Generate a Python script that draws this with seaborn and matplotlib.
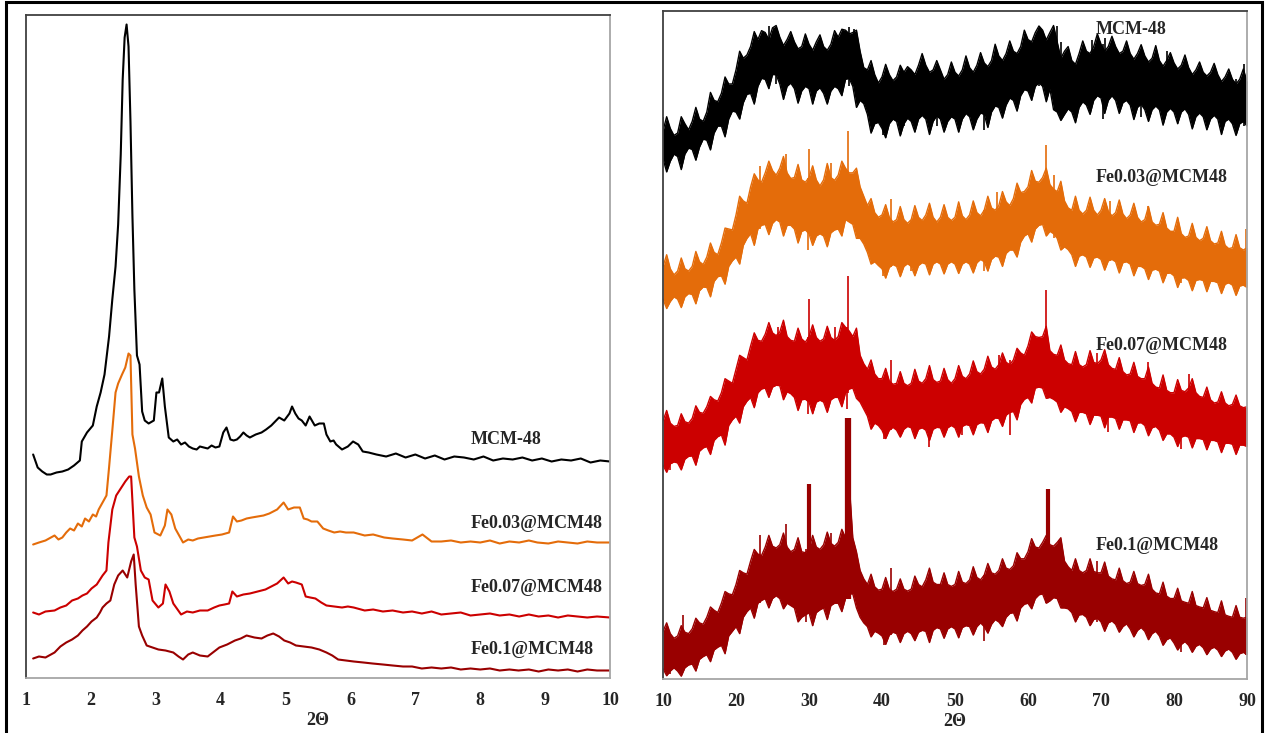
import numpy as np
import seaborn as sns
import matplotlib
matplotlib.use('Agg')
import matplotlib.pyplot as plt
from matplotlib.patches import Rectangle
from matplotlib.ticker import MultipleLocator

# ------------------------------
# colours / sample names
# ------------------------------
names = ['MCM-48', 'Fe0.03@MCM48', 'Fe0.07@MCM48', 'Fe0.1@MCM48']
colors = ['#000000', '#e46c0a', '#cc0000', '#990000']

# ------------------------------
# low angle patterns (1-10 deg), stacked intensities (a.u.)
# ------------------------------
mcm48_x = [1.11, 1.18, 1.25, 1.32, 1.38, 1.47, 1.56, 1.65, 1.74, 1.83, 1.86, 1.94, 2.03, 2.09, 2.15,
           2.21, 2.28, 2.33, 2.38, 2.42, 2.46, 2.49, 2.52, 2.55, 2.58, 2.61, 2.64, 2.67, 2.71, 2.75,
           2.79, 2.83, 2.89, 2.97, 3.01, 3.05, 3.10, 3.14, 3.20, 3.27, 3.33, 3.39, 3.45, 3.51, 3.57,
           3.63, 3.68, 3.74, 3.80, 3.86, 3.92, 3.98, 4.04, 4.09, 4.15, 4.20, 4.25, 4.30, 4.35, 4.40,
           4.45, 4.54, 4.63, 4.70, 4.78, 4.84, 4.90, 4.98, 5.06, 5.10, 5.15, 5.20, 5.25, 5.31, 5.37,
           5.45, 5.52, 5.59, 5.63, 5.69, 5.74, 5.78, 5.87, 5.96, 6.04, 6.12, 6.19, 6.28,
           6.4, 6.55, 6.7, 6.85, 7.0, 7.15, 7.3, 7.45, 7.6, 7.75, 7.9, 8.05, 8.2, 8.35, 8.5,
           8.65, 8.8, 8.95, 9.1, 9.25, 9.4, 9.55, 9.7, 9.85, 10.0]
mcm48_y = [222, 209, 205, 202, 202, 204, 205, 207, 211, 216, 235, 244, 251, 270, 284,
           302, 340, 377, 410, 452, 522, 597, 639, 652, 630, 555, 461, 387, 321, 312,
           265, 256, 253, 256, 284, 284, 298, 270, 239, 235, 237, 232, 234, 230, 228,
           227, 230, 229, 228, 231, 229, 230, 244, 249, 237, 236, 237, 240, 244, 241,
           239, 242, 244, 247, 251, 255, 259, 256, 263, 270, 263, 258, 256, 251, 260,
           251, 253, 253, 242, 235, 236, 232, 227, 230, 235, 232, 225, 224,
           222, 220, 223, 219, 222, 218, 221, 217, 220, 219, 217, 220, 216, 218, 217,
           219, 216, 218, 215, 217, 216, 218, 214, 216, 215]

fe003_x = [1.11, 1.2, 1.3, 1.44, 1.5, 1.56, 1.62, 1.68, 1.74, 1.80, 1.86, 1.91, 1.97, 2.03, 2.08,
           2.12, 2.18, 2.24, 2.28, 2.33, 2.38, 2.42, 2.48, 2.53, 2.58, 2.61, 2.64, 2.68, 2.74, 2.80,
           2.86, 2.92, 2.98, 3.07, 3.14, 3.18, 3.24, 3.30, 3.42, 3.50, 3.57, 3.65, 3.74, 3.83, 3.92,
           4.02, 4.13, 4.19, 4.25, 4.32, 4.40, 4.48, 4.57, 4.66, 4.75, 4.87, 4.97, 5.04, 5.13, 5.22,
           5.28, 5.34, 5.40, 5.49, 5.58, 5.66, 5.75, 5.84, 5.93, 6.05, 6.22, 6.35, 6.52, 6.65, 6.81,
           6.95, 7.11, 7.25, 7.40, 7.55, 7.7, 7.85, 8.0, 8.15, 8.3, 8.45, 8.6, 8.75, 8.88, 9.05,
           9.2, 9.35, 9.5, 9.65, 9.8, 10.0]
fe003_y = [132, 134, 136, 141, 137, 139, 144, 148, 146, 153, 150, 158, 155, 162, 160,
           167, 174, 181, 209, 246, 284, 293, 302, 309, 323, 321, 242, 228, 200, 181,
           169, 162, 144, 141, 151, 167, 162, 148, 134, 137, 136, 138, 139, 140, 141,
           142, 144, 160, 155, 156, 158, 159, 160, 161, 163, 167, 174, 167, 169, 169,
           158, 157, 155, 155, 148, 146, 144, 145, 144, 144, 141, 142, 139, 138, 137,
           136, 142, 135, 135, 136, 134, 135, 134, 136, 133, 135, 134, 136, 134, 133,
           135, 134, 133, 135, 134, 134]

fe007_x = [1.11, 1.2, 1.3, 1.44, 1.53, 1.62, 1.71, 1.80, 1.87, 1.94, 2.01, 2.09, 2.14, 2.18, 2.24,
           2.27, 2.33, 2.39, 2.46, 2.53, 2.59, 2.62, 2.67, 2.71, 2.77, 2.83, 2.89, 2.95, 3.04, 3.11,
           3.15, 3.21, 3.27, 3.39, 3.48, 3.57, 3.68, 3.80, 3.90, 3.98, 4.06, 4.13, 4.18, 4.25, 4.35,
           4.45, 4.57, 4.69, 4.78, 4.87, 4.97, 5.04, 5.10, 5.16, 5.25, 5.31, 5.38, 5.46, 5.55, 5.63,
           5.75, 5.87, 5.96, 6.05, 6.22, 6.35, 6.5, 6.65, 6.81, 6.95, 7.1, 7.25, 7.4, 7.55, 7.7,
           7.85, 8.0, 8.15, 8.3, 8.45, 8.6, 8.75, 8.9, 9.05, 9.2, 9.35, 9.5, 9.65, 9.8, 10.0]
fe007_y = [64, 62, 65, 66, 69, 71, 76, 78, 81, 83, 88, 92, 97, 101, 106,
           134, 167, 181, 188, 195, 200, 200, 139, 130, 106, 99, 97, 76, 69, 73,
           92, 85, 73, 62, 65, 64, 66, 66, 69, 71, 72, 73, 85, 80, 82,
           83, 85, 87, 90, 93, 99, 93, 95, 94, 92, 80, 79, 78, 74, 71,
           70, 69, 70, 69, 66, 67, 65, 66, 64, 65, 63, 65, 62, 63, 64,
           61, 62, 63, 61, 62, 60, 62, 60, 61, 59, 61, 60, 59, 60, 59]

fe01_x = [1.11, 1.2, 1.3, 1.44, 1.53, 1.62, 1.71, 1.80, 1.87, 1.94, 2.01, 2.09, 2.14, 2.18, 2.24,
          2.30, 2.36, 2.42, 2.49, 2.56, 2.62, 2.66, 2.69, 2.74, 2.79, 2.86, 2.95, 3.04, 3.15, 3.27,
          3.35, 3.42, 3.50, 3.57, 3.68, 3.80, 3.90, 3.98, 4.10, 4.22, 4.31, 4.40, 4.52, 4.63, 4.72,
          4.81, 4.90, 4.98, 5.07, 5.16, 5.28, 5.40, 5.52, 5.63, 5.72, 5.81, 5.93, 6.05, 6.2, 6.34,
          6.5, 6.65, 6.81, 6.95, 7.1, 7.25, 7.4, 7.55, 7.7, 7.85, 8.0, 8.15, 8.3, 8.45, 8.59,
          8.75, 8.9, 9.05, 9.2, 9.35, 9.5, 9.65, 9.8, 10.0]
fe01_y = [18, 20, 19, 24, 30, 34, 37, 41, 46, 50, 55, 59, 64, 69, 73,
          76, 92, 101, 106, 99, 115, 122, 92, 50, 41, 31, 29, 27, 26, 24,
          20, 17, 22, 24, 21, 20, 25, 29, 32, 36, 38, 41, 39, 38, 41,
          43, 40, 36, 34, 31, 30, 29, 27, 24, 21, 17, 16, 15, 14, 13,
          12, 11, 10, 10, 8, 9, 8, 9, 7, 8, 7, 8, 6, 7, 6,
          7, 5, 7, 6, 7, 5, 7, 6, 6]

# ------------------------------
# wide angle patterns (10-90 deg): top / bottom edge of the noise band
# whole degrees and half degrees kept separately
# ------------------------------
wide_x = list(range(10, 91))
half_x = [x + 0.5 for x in range(10, 90)]

mcm48_hi = [1170, 1175, 1165, 1185, 1190, 1195, 1210, 1235, 1250, 1270,
            1300, 1325, 1350, 1365, 1380, 1390, 1370, 1365, 1360, 1350,
            1355, 1360, 1350, 1355, 1370, 1385, 1380, 1340, 1300, 1290,
            1285, 1290, 1285, 1295, 1300, 1310, 1310, 1300, 1300, 1290,
            1295, 1300, 1305, 1310, 1315, 1320, 1330, 1335, 1340, 1350,
            1365, 1380, 1385, 1380, 1360, 1340, 1320, 1335, 1340, 1350,
            1355, 1350, 1350, 1340, 1335, 1335, 1330, 1325, 1320, 1320,
            1315, 1310, 1305, 1300, 1295, 1295, 1290, 1285, 1280, 1280, 1275]
mcm48_hi_half = [1200, 1160, 1200, 1172, 1220, 1190, 1252, 1232, 1285, 1270,
                 1340, 1332, 1382, 1384, 1365, 1395, 1352, 1382, 1345, 1377,
                 1342, 1375, 1342, 1384, 1387, 1377, 1385, 1305, 1320, 1272,
                 1312, 1277, 1310, 1307, 1290, 1335, 1295, 1320, 1280, 1317,
                 1287, 1330, 1295, 1337, 1307, 1355, 1320, 1362, 1335, 1385,
                 1360, 1394, 1364, 1395, 1325, 1350, 1312, 1362, 1335, 1377,
                 1340, 1372, 1335, 1362, 1323, 1354, 1317, 1352, 1308, 1337,
                 1302, 1332, 1290, 1317, 1287, 1314, 1275, 1302, 1270, 1302]
mcm48_lo = [1110, 1105, 1115, 1120, 1130, 1135, 1150, 1165, 1180, 1195,
            1210, 1230, 1250, 1265, 1280, 1290, 1270, 1265, 1260, 1255,
            1260, 1255, 1250, 1255, 1260, 1280, 1265, 1235, 1205, 1185,
            1175, 1185, 1190, 1185, 1190, 1195, 1195, 1190, 1195, 1190,
            1195, 1195, 1200, 1195, 1205, 1210, 1220, 1225, 1235, 1245,
            1255, 1265, 1265, 1260, 1210, 1205, 1210, 1220, 1225, 1235,
            1240, 1235, 1235, 1230, 1225, 1220, 1215, 1215, 1215, 1210,
            1210, 1210, 1205, 1200, 1200, 1195, 1195, 1190, 1185, 1185, 1180]
mcm48_lo_half = [1082, 1120, 1087, 1133, 1107, 1152, 1129, 1180, 1157, 1212,
                 1195, 1248, 1227, 1282, 1260, 1290, 1237, 1272, 1229, 1265,
                 1227, 1262, 1227, 1265, 1245, 1282, 1220, 1228, 1165, 1188,
                 1155, 1195, 1159, 1197, 1167, 1203, 1162, 1202, 1167, 1200,
                 1167, 1207, 1172, 1208, 1177, 1223, 1197, 1240, 1212, 1258,
                 1235, 1273, 1232, 1215, 1192, 1217, 1187, 1232, 1205, 1245,
                 1207, 1245, 1207, 1235, 1194, 1227, 1190, 1223, 1182, 1218,
                 1185, 1217, 1174, 1208, 1172, 1203, 1162, 1195, 1160, 1190]

fe003_hi = [880, 875, 870, 875, 880, 890, 900, 910, 930, 960,
            990, 1020, 1050, 1065, 1080, 1085, 1090, 1080, 1070, 1065,
            1070, 1065, 1065, 1070, 1075, 1090, 1080, 1050, 1010, 995,
            990, 985, 980, 980, 980, 985, 990, 985, 985, 985,
            985, 988, 990, 995, 1000, 1005, 1010, 1018, 1025, 1038,
            1050, 1062, 1070, 1055, 1040, 1020, 1000, 1000, 1000, 1000,
            1000, 998, 995, 992, 990, 985, 980, 975, 970, 962,
            955, 950, 945, 942, 940, 935, 930, 925, 920, 920, 920]
fe003_hi_half = [905, 862, 898, 870, 912, 884, 930, 905, 962, 958,
                 1030, 1015, 1078, 1060, 1105, 1075, 1115, 1068, 1098, 1060,
                 1095, 1052, 1100, 1064, 1105, 1080, 1090, 1030, 1025, 985,
                 1012, 975, 1008, 972, 1010, 978, 1015, 975, 1012, 978,
                 1018, 980, 1020, 988, 1030, 1000, 1040, 1010, 1058, 1040,
                 1085, 1060, 1090, 1045, 1062, 1005, 1030, 992, 1028, 990,
                 1025, 988, 1022, 982, 1015, 975, 1008, 968, 995, 955,
                 985, 942, 972, 935, 965, 928, 955, 918, 948, 915]
fe003_lo = [810, 805, 810, 815, 820, 828, 835, 848, 860, 880,
            900, 925, 950, 960, 970, 972, 975, 968, 960, 955,
            950, 945, 945, 952, 960, 980, 970, 940, 910, 890,
            875, 878, 880, 880, 880, 882, 885, 885, 885, 885,
            885, 885, 885, 888, 890, 895, 900, 908, 915, 932,
            950, 960, 970, 955, 940, 922, 905, 902, 900, 898,
            895, 892, 890, 888, 885, 880, 875, 872, 870, 865,
            860, 855, 850, 850, 850, 848, 845, 842, 840, 838, 835]
fe003_lo_half = [790, 815, 792, 822, 800, 836, 815, 858, 842, 892,
                 885, 940, 925, 968, 948, 980, 945, 968, 930, 958,
                 925, 950, 922, 958, 945, 975, 940, 928, 885, 882,
                 855, 884, 858, 886, 860, 888, 862, 890, 864, 890,
                 865, 890, 866, 895, 870, 902, 880, 915, 900, 945,
                 932, 968, 945, 950, 915, 916, 880, 905, 878, 900,
                 872, 895, 866, 890, 860, 880, 852, 874, 845, 866,
                 835, 856, 828, 852, 826, 848, 822, 845, 818, 840]

fe007_hi = [550, 545, 540, 548, 555, 568, 580, 595, 610, 635,
            660, 685, 710, 722, 735, 738, 740, 730, 720, 725,
            730, 728, 725, 728, 730, 750, 730, 690, 660, 650,
            640, 635, 630, 630, 630, 635, 640, 638, 635, 638,
            640, 645, 650, 655, 660, 665, 670, 675, 680, 695,
            710, 730, 730, 700, 690, 680, 670, 670, 670, 675,
            680, 670, 660, 655, 650, 645, 640, 630, 620, 615,
            610, 615, 620, 610, 600, 595, 590, 588, 585, 582, 580]
fe007_hi_half = [572, 538, 565, 545, 582, 566, 602, 592, 640, 630,
                 690, 680, 738, 720, 760, 732, 765, 722, 748, 718,
                 755, 720, 752, 722, 760, 742, 748, 672, 680, 640,
                 662, 628, 655, 625, 660, 630, 668, 632, 662, 630,
                 668, 640, 678, 650, 688, 660, 695, 670, 705, 690,
                 740, 728, 752, 692, 712, 672, 698, 665, 700, 672,
                 702, 662, 685, 648, 675, 640, 665, 622, 648, 610,
                 638, 612, 640, 602, 622, 588, 612, 582, 605, 578]
fe007_lo = [455, 458, 460, 468, 475, 485, 495, 508, 520, 540,
            560, 580, 600, 610, 620, 622, 625, 612, 600, 595,
            590, 590, 590, 595, 600, 610, 620, 590, 560, 545,
            530, 530, 530, 532, 535, 532, 530, 532, 535, 535,
            535, 538, 540, 542, 545, 550, 555, 562, 570, 585,
            600, 620, 620, 600, 590, 580, 570, 568, 565, 562,
            560, 558, 555, 552, 550, 545, 540, 535, 530, 522,
            515, 515, 515, 512, 510, 508, 505, 502, 500, 498, 495]
fe007_lo_half = [440, 462, 445, 474, 455, 492, 478, 516, 498, 552,
                 545, 592, 578, 618, 600, 626, 595, 608, 572, 596,
                 565, 594, 568, 600, 580, 618, 598, 575, 532, 540,
                 512, 536, 515, 538, 512, 535, 508, 536, 515, 540,
                 515, 542, 520, 546, 525, 556, 538, 568, 552, 596,
                 588, 622, 598, 596, 568, 576, 548, 568, 542, 562,
                 535, 558, 532, 552, 525, 546, 518, 538, 508, 522,
                 495, 518, 492, 512, 488, 508, 482, 502, 478, 498]

fe01_hi = [100, 95, 90, 98, 105, 118, 130, 145, 160, 180,
           200, 225, 250, 265, 280, 282, 285, 280, 275, 270,
           275, 280, 285, 288, 290, 300, 300, 230, 200, 195,
           190, 190, 190, 190, 190, 200, 210, 205, 200, 200,
           200, 205, 210, 215, 220, 225, 230, 235, 240, 255,
           270, 280, 290, 285, 290, 250, 230, 230, 230, 228,
           225, 218, 210, 208, 205, 202, 200, 190, 180, 175,
           170, 165, 160, 155, 150, 145, 140, 135, 130, 130, 130]
fe01_hi_half = [118, 85, 112, 95, 128, 115, 152, 140, 185, 178,
                230, 222, 275, 262, 305, 278, 310, 270, 300, 268,
                305, 275, 312, 282, 318, 420, 270, 212, 222, 188,
                215, 185, 212, 186, 218, 195, 235, 200, 225, 196,
                228, 202, 238, 210, 245, 222, 255, 232, 268, 255,
                298, 278, 305, 282, 300, 238, 255, 225, 255, 225,
                248, 212, 235, 202, 228, 198, 222, 182, 205, 170,
                192, 162, 185, 152, 172, 142, 165, 132, 155, 128]
fe01_lo = [20, 15, 15, 22, 30, 40, 50, 60, 70, 90,
           110, 130, 150, 160, 170, 170, 170, 160, 150, 130,
           140, 140, 150, 155, 160, 170, 180, 130, 110, 100,
           90, 92, 95, 95, 95, 98, 100, 102, 105, 105,
           105, 108, 110, 110, 110, 115, 120, 130, 140, 150,
           160, 170, 180, 165, 170, 150, 140, 135, 130, 125,
           120, 118, 115, 110, 105, 102, 100, 95, 90, 82,
           75, 72, 70, 68, 65, 62, 60, 58, 55, 52, 50]
fe01_lo_half = [5, 22, 4, 28, 15, 46, 35, 66, 52, 100,
                95, 142, 128, 166, 150, 176, 148, 155, 120, 135,
                112, 146, 125, 160, 142, 180, 150, 118, 88, 96,
                72, 98, 76, 100, 80, 102, 76, 108, 85, 110,
                86, 112, 92, 118, 96, 125, 110, 138, 122, 158,
                148, 178, 160, 172, 150, 148, 120, 136, 112, 128,
                100, 122, 98, 116, 88, 108, 82, 100, 70, 86,
                60, 78, 55, 72, 50, 66, 46, 62, 40, 55]

# sharp spikes sticking out of the band (position, tip)
mcm48_up_x = [10.0, 24.5, 25.5, 35.5, 36.2, 61.5, 64.0, 68.8, 70.5, 79.0, 89.6]
mcm48_up_y = [1200, 1395, 1392, 1392, 1388, 1390, 1394, 1365, 1368, 1340, 1312]
mcm48_dn_x = [10.4, 40.2, 43.0, 47.5, 54.0, 64.5, 70.3, 75.5, 88.5]
mcm48_dn_y = [1100, 1160, 1180, 1180, 1172, 1192, 1195, 1200, 1175]

fe003_up_x = [23.3, 26.8, 30.0, 33.0, 35.3, 36.5, 41.2, 55.8, 62.4, 63.6, 71.3, 76.5, 89.8]
fe003_up_y = [1095, 1120, 1130, 1100, 1170, 1085, 1025, 1040, 1140, 1075, 1020, 1010, 960]
fe003_dn_x = [10.5, 29.8, 40.2, 44.0, 54.0, 62.6, 81.0, 88.5]
fe003_dn_y = [795, 915, 860, 870, 870, 950, 845, 830]

fe007_up_x = [25.8, 26.5, 30.0, 33.5, 35.3, 41.2, 56.0, 62.4, 69.5, 76.5, 82.0]
fe007_up_y = [750, 752, 810, 750, 860, 680, 690, 830, 695, 675, 650]
fe007_dn_x = [11.0, 29.8, 35.2, 40.3, 46.4, 51.0, 57.5, 62.6, 71.0, 81.0, 88.7]
fe007_dn_y = [445, 565, 575, 510, 495, 520, 520, 620, 525, 490, 490]

fe01_up_x = [12.8, 23.3, 26.8, 30.0, 33.0, 35.3, 41.2, 46.5, 62.7, 64.3, 69.5, 89.8]
fe01_up_y = [135, 305, 330, 415, 310, 555, 235, 220, 405, 295, 250, 172]
fe01_dn_x = [11.0, 29.6, 40.3, 54.0, 62.4, 81.0, 88.5]
fe01_dn_y = [8, 120, 70, 80, 160, 55, 40]


def merge(whole, half):
    # whole-degree and half-degree readings, in 2theta order
    out = []
    for i, v in enumerate(whole):
        out.append(v)
        if i < len(half):
            out.append(half[i])
    return out


full_x = merge(wide_x, half_x)

# ------------------------------
# figure
# ------------------------------
sns.set_style('white')
plt.rcParams['font.family'] = ['Liberation Serif', 'DejaVu Serif']
plt.rcParams['font.weight'] = 'bold'

W, H = 1270, 733
fig = plt.figure(figsize=(W / 100, H / 100), dpi=100)

ax1 = fig.add_axes([26 / W, (H - 678) / H, (610 - 26) / W, (678 - 15) / H])
ax2 = fig.add_axes([663 / W, (H - 679) / H, (1247 - 663) / W, (679 - 11) / H])

low = [(mcm48_x, mcm48_y), (fe003_x, fe003_y), (fe007_x, fe007_y), (fe01_x, fe01_y)]
for (xs, ys), c in zip(low, colors):
    sns.lineplot(x=xs, y=ys, ax=ax1, color=c, linewidth=1.5, sort=False)

wide = [(mcm48_hi, mcm48_hi_half, mcm48_lo, mcm48_lo_half, mcm48_up_x, mcm48_up_y, mcm48_dn_x, mcm48_dn_y),
        (fe003_hi, fe003_hi_half, fe003_lo, fe003_lo_half, fe003_up_x, fe003_up_y, fe003_dn_x, fe003_dn_y),
        (fe007_hi, fe007_hi_half, fe007_lo, fe007_lo_half, fe007_up_x, fe007_up_y, fe007_dn_x, fe007_dn_y),
        (fe01_hi, fe01_hi_half, fe01_lo, fe01_lo_half, fe01_up_x, fe01_up_y, fe01_dn_x, fe01_dn_y)]
big_peaks = {30.0: 3.0, 35.3: 4.5, 62.7: 3.0}
for (hi, hih, lo, loh, ux, uy, dx, dy), c in zip(wide, colors):
    top = merge(hi, hih)
    bot = merge(lo, loh)
    ax2.fill_between(full_x, bot, top, color=c, linewidth=0)
    sns.lineplot(x=full_x, y=top, ax=ax2, color=c, linewidth=1.0, sort=False)
    sns.lineplot(x=full_x, y=bot, ax=ax2, color=c, linewidth=1.0, sort=False)
    for x, tip in zip(ux, uy):
        base = lo[int(round(x)) - 10]
        lw = big_peaks.get(x, 1.2) if c == colors[3] else 1.2
        ax2.vlines(x, base, tip, color=c, linewidth=lw)
    for x, tip in zip(dx, dy):
        ax2.vlines(x, tip, hi[int(round(x)) - 10], color=c, linewidth=1.2)

ax1.set_xlim(1, 10)
ax1.set_ylim(-1.5, 661.5)
ax2.set_xlim(10, 90)
ax2.set_ylim(-2, 1426)
ax1.xaxis.set_major_locator(MultipleLocator(1))
ax1.xaxis.set_minor_locator(MultipleLocator(0.1))
ax2.xaxis.set_major_locator(MultipleLocator(10))
ax2.xaxis.set_minor_locator(MultipleLocator(1))

for ax in (ax1, ax2):
    ax.set_yticks([])
    ax.set_ylabel('')
    ax.spines['left'].set_color('#404040')
    ax.spines['top'].set_color('#404040')
    ax.spines['right'].set_color('#a6a6a6')
    ax.spines['bottom'].set_color('#a6a6a6')
    for s in ax.spines.values():
        s.set_linewidth(1.3)
    ax.tick_params(axis='x', which='major', direction='out', length=5, width=1,
                   color='#a6a6a6', labelsize=13, pad=5)
    ax.tick_params(axis='x', which='minor', direction='in', length=3, width=1,
                   color='#a6a6a6')
    for lab in ax.get_xticklabels():
        lab.set_fontweight('bold')
    ax.set_xlabel('2\u0398', fontsize=13, fontweight='bold', labelpad=2)

# sample labels
label_pos_left = [(471, 439), (471, 524), (471, 588), (471, 650)]
label_pos_right = [(1096, 30), (1096, 178), (1096, 345), (1096, 546)]
for name, (px, py) in zip(names, label_pos_left):
    fig.text(px / W, 1 - py / H, name, fontsize=13, fontweight='bold', va='center', ha='left')
for name, (px, py) in zip(names, label_pos_right):
    fig.text(px / W, 1 - py / H, name, fontsize=13, fontweight='bold', va='center', ha='left')

# outer frame
fig.patches.append(Rectangle((6 / W, -0.02), (1262 - 6) / W, 1.02 - 2.5 / H,
                             transform=fig.transFigure, fill=False, edgecolor='black',
                             linewidth=2.2, clip_on=False))

fig.savefig('out.png', dpi=100)
